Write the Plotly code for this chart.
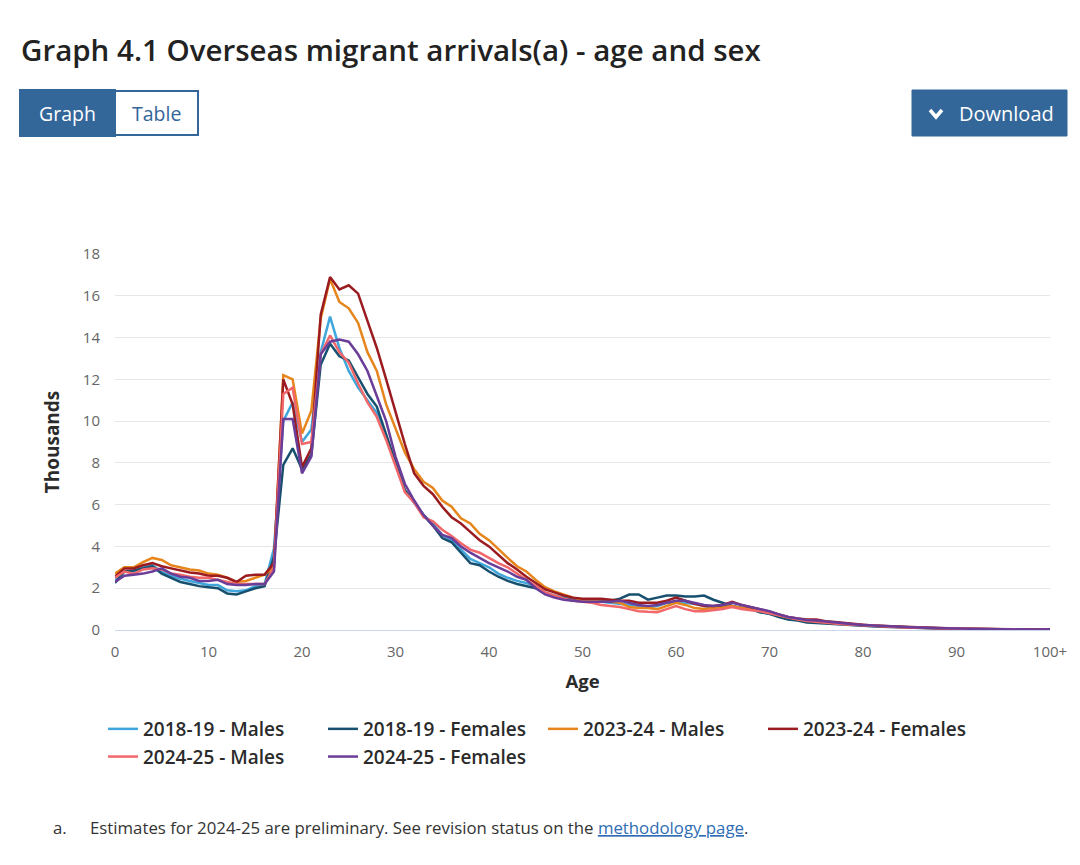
import plotly.graph_objects as go

# ---------------- data ----------------
ages = list(range(0, 101))
tick_vals = [0, 10, 20, 30, 40, 50, 60, 70, 80, 90, 100]
tick_text = ["0", "10", "20", "30", "40", "50", "60", "70", "80", "90", "100+"]

males_2018_19 = [
    2.4, 2.8, 2.8, 3.0, 3.1, 2.8, 2.6, 2.45, 2.35, 2.25,
    2.15, 2.15, 1.9, 1.85, 1.9, 2.1, 2.2, 3.9, 10.0, 10.9,
    9.0, 9.6, 13.3, 15.0, 13.5, 12.4, 11.6, 11.0, 10.4, 9.2,
    8.0, 6.7, 6.1, 5.5, 5.1, 4.55, 4.3, 3.85, 3.4, 3.2,
    3.0, 2.7, 2.5, 2.35, 2.25, 2.1, 1.8, 1.65, 1.55, 1.45,
    1.4, 1.4, 1.35, 1.3, 1.25, 1.2, 1.15, 1.1, 1.15, 1.3,
    1.3, 1.3, 1.25, 1.15, 1.05, 1.15, 1.15, 1.05, 1.0, 0.85,
    0.78, 0.68, 0.55, 0.48, 0.4, 0.38, 0.34, 0.3, 0.27, 0.24,
    0.21, 0.19, 0.17, 0.15, 0.13, 0.12, 0.1, 0.09, 0.08, 0.07,
    0.06, 0.05, 0.045, 0.04, 0.035, 0.03, 0.025, 0.02, 0.02, 0.015,
    0.03]
females_2018_19 = [
    2.25, 2.8, 2.85, 2.95, 3.05, 2.7, 2.5, 2.3, 2.2, 2.1,
    2.05, 2.0, 1.75, 1.7, 1.85, 2.0, 2.1, 3.5, 7.9, 8.7,
    7.7, 8.4, 12.7, 13.7, 13.1, 12.9, 12.1, 11.3, 10.7, 9.4,
    8.1, 6.7, 6.1, 5.5, 5.0, 4.4, 4.2, 3.7, 3.2, 3.1,
    2.8, 2.55, 2.35, 2.2, 2.1, 2.0, 1.75, 1.6, 1.5, 1.45,
    1.4, 1.4, 1.4, 1.4, 1.5, 1.7, 1.7, 1.45, 1.55, 1.65,
    1.65, 1.6, 1.6, 1.65, 1.45, 1.3, 1.15, 1.05, 1.0, 0.85,
    0.78, 0.62, 0.5, 0.45, 0.36, 0.33, 0.3, 0.27, 0.24, 0.22,
    0.2, 0.18, 0.16, 0.14, 0.12, 0.11, 0.1, 0.08, 0.07, 0.06,
    0.05, 0.045, 0.04, 0.035, 0.03, 0.025, 0.02, 0.018, 0.015, 0.012,
    0.02]
males_2023_24 = [
    2.7, 3.0, 3.0, 3.25, 3.45, 3.35, 3.1, 3.0, 2.9, 2.85,
    2.7, 2.65, 2.5, 2.3, 2.35, 2.5, 2.65, 3.0, 12.2, 12.0,
    9.4, 10.5, 14.9, 16.8, 15.7, 15.4, 14.7, 13.3, 12.4, 10.8,
    9.6, 8.5, 7.7, 7.1, 6.8, 6.2, 5.9, 5.35, 5.1, 4.6,
    4.3, 3.85, 3.45, 3.05, 2.8, 2.4, 2.05, 1.85, 1.7, 1.55,
    1.45, 1.4, 1.35, 1.35, 1.3, 1.1, 1.05, 1.05, 1.0, 1.15,
    1.3, 1.2, 1.05, 1.0, 1.05, 1.1, 1.15, 1.05, 1.05, 0.95,
    0.85, 0.72, 0.6, 0.52, 0.45, 0.42, 0.37, 0.33, 0.29, 0.26,
    0.23, 0.2, 0.18, 0.16, 0.14, 0.12, 0.11, 0.09, 0.08, 0.07,
    0.06, 0.05, 0.045, 0.04, 0.035, 0.03, 0.025, 0.02, 0.018, 0.015,
    0.03]
females_2023_24 = [
    2.55, 2.95, 2.95, 3.1, 3.2, 3.05, 2.95, 2.85, 2.75, 2.7,
    2.6, 2.6, 2.5, 2.3, 2.6, 2.65, 2.65, 3.2, 12.0, 10.8,
    7.8, 8.7, 15.1, 16.9, 16.3, 16.5, 16.1, 14.8, 13.5, 12.0,
    10.4, 8.9, 7.5, 6.9, 6.5, 5.9, 5.4, 5.1, 4.7, 4.3,
    4.0, 3.6, 3.2, 2.9, 2.55, 2.25, 1.95, 1.8, 1.65, 1.55,
    1.5, 1.5, 1.5, 1.45, 1.4, 1.4, 1.3, 1.3, 1.3, 1.4,
    1.55, 1.4, 1.25, 1.15, 1.15, 1.2, 1.35, 1.2, 1.1, 1.0,
    0.88, 0.75, 0.62, 0.55, 0.5, 0.5, 0.42, 0.38, 0.33, 0.29,
    0.25, 0.22, 0.2, 0.17, 0.15, 0.13, 0.11, 0.1, 0.08, 0.07,
    0.06, 0.05, 0.045, 0.04, 0.035, 0.03, 0.025, 0.02, 0.018, 0.015,
    0.02]
males_2024_25 = [
    2.5, 2.8, 2.7, 2.9, 2.95, 2.9, 2.7, 2.65, 2.55, 2.5,
    2.5, 2.4, 2.3, 2.2, 2.2, 2.2, 2.2, 3.0, 11.3, 11.6,
    8.9, 9.0, 13.2, 14.1, 13.3, 12.8, 11.8, 10.9, 10.2, 9.1,
    7.8, 6.6, 6.1, 5.4, 5.2, 4.8, 4.5, 4.15, 3.85, 3.7,
    3.45, 3.2, 3.0, 2.7, 2.4, 2.1, 1.8, 1.65, 1.5, 1.4,
    1.35, 1.3, 1.2, 1.15, 1.1, 1.0, 0.9, 0.87, 0.85, 1.0,
    1.15, 1.0, 0.9, 0.9, 0.95, 1.0, 1.1, 1.0, 0.95, 0.9,
    0.8, 0.7, 0.58, 0.5, 0.43, 0.4, 0.35, 0.31, 0.27, 0.24,
    0.21, 0.19, 0.17, 0.15, 0.13, 0.11, 0.1, 0.09, 0.08, 0.07,
    0.06, 0.05, 0.04, 0.035, 0.03, 0.025, 0.02, 0.018, 0.015, 0.012,
    0.02]
females_2024_25 = [
    2.3, 2.6, 2.65, 2.7, 2.8, 2.95, 2.7, 2.55, 2.5, 2.35,
    2.35, 2.4, 2.2, 2.15, 2.15, 2.2, 2.2, 2.8, 10.1, 10.1,
    7.5, 8.3, 13.2, 13.8, 13.9, 13.8, 13.2, 12.4, 11.2, 10.0,
    8.3, 7.0, 6.2, 5.5, 5.0, 4.55, 4.4, 4.0, 3.7, 3.45,
    3.2, 3.0, 2.8, 2.55, 2.4, 2.0, 1.7, 1.55, 1.45, 1.4,
    1.35, 1.35, 1.35, 1.35, 1.4, 1.3, 1.2, 1.15, 1.2, 1.3,
    1.4, 1.4, 1.3, 1.2, 1.15, 1.2, 1.3, 1.2, 1.1, 1.0,
    0.9, 0.75, 0.62, 0.55, 0.48, 0.45, 0.4, 0.35, 0.31, 0.27,
    0.24, 0.21, 0.19, 0.17, 0.15, 0.13, 0.11, 0.1, 0.09, 0.08,
    0.07, 0.06, 0.05, 0.045, 0.04, 0.035, 0.03, 0.025, 0.02, 0.018,
    0.03]

series_names = ["2018-19 - Males", "2018-19 - Females", "2023-24 - Males",
                "2023-24 - Females", "2024-25 - Males", "2024-25 - Females"]
series_values = [males_2018_19, females_2018_19, males_2023_24,
                 females_2023_24, males_2024_25, females_2024_25]
series_colors = ["#3fa6dc", "#17506f", "#e5851c", "#9b1c20", "#f2676a", "#6a3d99"]

# ---------------- geometry helpers ----------------
OFF = 8                      # page body margin
W, H = 1080 - OFF, 865 - OFF
PL, PR, PT, PB = 115, 1050, 254, 630   # plot area, page pixels


def xp(px):
    return (px - PL) / (PR - PL)


def yp(py):
    return (PB - py) / (PB - PT)


FONT = "Open Sans"
BLUE = "#336699"

fig = go.Figure()
for name, vals, col in zip(series_names, series_values, series_colors):
    fig.add_trace(go.Scatter(x=ages, y=vals, name=name, mode="lines",
                             line=dict(color=col, width=2.5)))

shapes = [
    dict(type="line", xref="paper", yref="paper", x0=xp(1), x1=xp(1), y0=yp(0), y1=yp(865),
         line=dict(color="#dddddd", width=1)),
    dict(type="rect", xref="paper", yref="paper", x0=xp(20), x1=xp(115), y0=yp(136), y1=yp(90),
         fillcolor=BLUE, line=dict(color=BLUE, width=2)),
    dict(type="rect", xref="paper", yref="paper", x0=xp(115), x1=xp(198), y0=yp(135), y1=yp(91),
         fillcolor="white", line=dict(color=BLUE, width=2)),
    dict(type="rect", xref="paper", yref="paper", x0=xp(912), x1=xp(1067), y0=yp(136), y1=yp(90),
         fillcolor=BLUE, line=dict(color=BLUE, width=1)),
    dict(type="path", xref="paper", yref="paper",
         path=f"M {xp(930)},{yp(110)} L {xp(936)},{yp(117)} L {xp(942)},{yp(110)}",
         line=dict(color="white", width=3.5)),
]

annotations = [
    dict(text="Graph 4.1 Overseas migrant arrivals(a) - age and sex", xref="paper", yref="paper",
         x=xp(19), y=yp(50), xanchor="left", yanchor="middle", showarrow=False,
         font=dict(family=FONT, size=29.5, color="#222222", weight=600)),
    dict(text="Graph", xref="paper", yref="paper", x=xp(67), y=yp(113), showarrow=False,
         xanchor="center", yanchor="middle", font=dict(family=FONT, size=19.5, color="white")),
    dict(text="Table", xref="paper", yref="paper", x=xp(156), y=yp(113), showarrow=False,
         xanchor="center", yanchor="middle", font=dict(family=FONT, size=19.5, color=BLUE)),
    dict(text="Download", xref="paper", yref="paper", x=xp(957), y=yp(113), showarrow=False,
         xanchor="left", yanchor="middle", font=dict(family=FONT, size=20, color="white")),
    dict(text="a.", xref="paper", yref="paper", x=xp(51), y=yp(827), showarrow=False,
         xanchor="left", yanchor="middle", font=dict(family=FONT, size=16.8, color="#333333")),
    dict(text="Estimates for 2024-25 are preliminary. See revision status on the "
              "<span style='color:#2e6db4'><u>methodology page</u></span>.",
         xref="paper", yref="paper", x=xp(88), y=yp(827), showarrow=False,
         xanchor="left", yanchor="middle", font=dict(family=FONT, size=16.8, color="#333333")),
]

fig.update_layout(
    width=W, height=H,
    margin=dict(l=PL - OFF, r=(W + OFF) - PR, t=PT - OFF, b=(H + OFF) - PB),
    paper_bgcolor="white", plot_bgcolor="white",
    font=dict(family=FONT, color="#333333"),
    showlegend=True,
    legend=dict(orientation="h", xref="container", yref="container",
                x=(103 - OFF) / W, y=1 - (710 - OFF) / H, xanchor="left", yanchor="top",
                entrywidth=175, entrywidthmode="pixels", itemwidth=30,
                tracegroupgap=0,
                font=dict(family=FONT, size=19, color="#2b2b2b", weight=600)),
    xaxis=dict(range=[0, 100], tickvals=tick_vals, ticktext=tick_text,
               showgrid=False, zeroline=False, showline=True, linecolor="#ccd6eb",
               linewidth=1, ticks="", ticklabelstandoff=8,
               tickfont=dict(family=FONT, size=15, color="#666666"),
               title=dict(text="Age", standoff=15,
                          font=dict(family=FONT, size=18.5, color="#2b2b2b", weight=700)),
               fixedrange=True),
    yaxis=dict(range=[0, 18], dtick=2, showgrid=True, gridcolor="#e6e6e6", gridwidth=1,
               zeroline=False, showline=False, ticks="", ticklabelstandoff=14,
               tickfont=dict(family=FONT, size=15, color="#666666"),
               title=dict(text="Thousands", standoff=18,
                          font=dict(family=FONT, size=19, color="#2b2b2b", weight=700)),
               fixedrange=True),
    shapes=shapes,
    annotations=annotations,
    hovermode=False,
)

fig.write_html("out.html", config={"displayModeBar": False})
